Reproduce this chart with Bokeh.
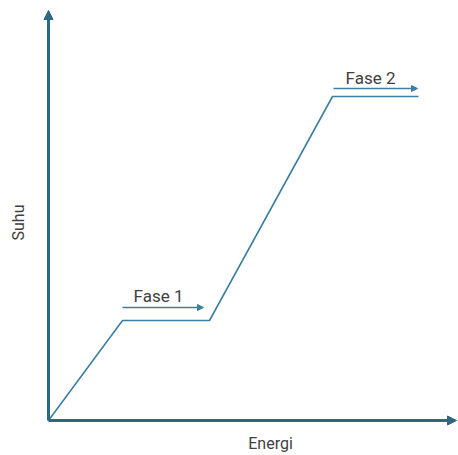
from bokeh.plotting import figure
from bokeh.models import Range1d, Arrow, NormalHead, Label
from bokeh.embed import file_html
from bokeh.resources import INLINE

# Heating curve: energy vs temperature (arbitrary units)
energi = [0, 74, 161, 284, 370]
suhu = [0, 100, 100, 324, 324]

# Phase arrows (start energy, end energy, temperature) and labels
fase_labels = ["Fase 1", "Fase 2"]
fase_x0 = [74, 285]
fase_x1 = [155, 369]
fase_y = [113, 332]
label_x = [110, 322]
label_y = [125, 343]

x_max = 408
y_max = 410

p = figure(width=458, height=455, output_backend="svg", toolbar_location=None,
           x_range=Range1d(-48, 410), y_range=Range1d(-35, 420),
           min_border=0, outline_line_color=None)
p.axis.visible = False
p.grid.visible = False
p.background_fill_color = "white"

axis_col = "#2a6884"
line_col = "#3d7fa0"
text_col = "#404040"

# axes arrows
p.add_layout(Arrow(x_start=0, y_start=0, x_end=x_max, y_end=0, line_width=3,
                   line_color=axis_col,
                   end=NormalHead(size=9, fill_color=axis_col, line_color=axis_col)))
p.add_layout(Arrow(x_start=0, y_start=0, x_end=0, y_end=y_max, line_width=3,
                   line_color=axis_col,
                   end=NormalHead(size=9, fill_color=axis_col, line_color=axis_col)))

p.line(energi, suhu, line_width=1.6, line_color=line_col)

for lab, x0, x1, y, lx, ly in zip(fase_labels, fase_x0, fase_x1, fase_y, label_x, label_y):
    p.add_layout(Arrow(x_start=x0, y_start=y, x_end=x1, y_end=y, line_width=1.6,
                       line_color=line_col,
                       end=NormalHead(size=6, fill_color=line_col, line_color=line_col)))
    p.add_layout(Label(x=lx, y=ly, text=lab, text_align="center", text_baseline="alphabetic",
                       text_font="Roboto", text_font_size="17px", text_color=text_col))

p.add_layout(Label(x=222, y=-23, text="Energi", text_align="center", text_baseline="middle",
                   text_font="Roboto", text_font_size="16px", text_color=text_col))
p.add_layout(Label(x=-30, y=198, text="Suhu", text_align="center", text_baseline="middle",
                   angle=90, angle_units="deg",
                   text_font="Roboto", text_font_size="16px", text_color=text_col))

open("out.html", "w").write(file_html(p, INLINE))
